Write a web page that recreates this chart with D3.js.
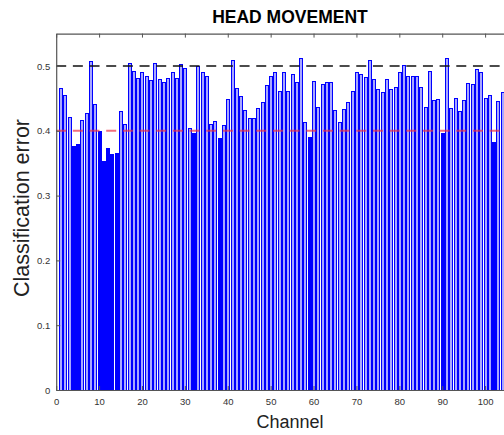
<!DOCTYPE html>
<html>
<head>
<meta charset="utf-8">
<script src="https://cdn.jsdelivr.net/npm/d3@7"></script>
<style>
  html, body { margin: 0; padding: 0; background: #fff; overflow: hidden; }
  svg { display: block; font-family: "Liberation Sans", Arial, Helvetica, sans-serif; }
</style>
</head>
<body>
<svg id="chart" width="504" height="435"></svg>
<script>
// Per-channel classification error (channels 1..104)
const channels = d3.range(1, 105);
const errors = [
  0.466, 0.456, 0.422, 0.376, 0.379, 0.417, 0.427, 0.508, 0.442, 0.399,
  0.354, 0.373, 0.364, 0.365, 0.431, 0.410, 0.504, 0.492, 0.481, 0.491,
  0.485, 0.478, 0.504, 0.480, 0.475, 0.482, 0.490, 0.481, 0.503, 0.497,
  0.404, 0.396, 0.500, 0.490, 0.485, 0.410, 0.415, 0.389, 0.409, 0.449,
  0.509, 0.466, 0.453, 0.432, 0.420, 0.419, 0.435, 0.444, 0.471, 0.484,
  0.491, 0.462, 0.491, 0.461, 0.488, 0.475, 0.512, 0.413, 0.390, 0.477,
  0.436, 0.472, 0.475, 0.475, 0.432, 0.413, 0.434, 0.444, 0.462, 0.490,
  0.488, 0.483, 0.509, 0.480, 0.465, 0.460, 0.480, 0.465, 0.467, 0.490,
  0.502, 0.485, 0.484, 0.484, 0.468, 0.437, 0.493, 0.447, 0.449, 0.396,
  0.512, 0.435, 0.451, 0.431, 0.448, 0.473, 0.472, 0.495, 0.490, 0.451,
  0.456, 0.383, 0.446, 0.460
];
const chanceLevel = 0.5;
const significanceLevel = 0.4;
const xTicks = [0, 10, 20, 30, 40, 50, 60, 70, 80, 90, 100];
const yTicks = [0, 0.1, 0.2, 0.3, 0.4, 0.5];

const svg = d3.select("#chart");
const plotLeft = 56.2, plotTop = 33.6, plotBottom = 390;
const xDomain = [0, 109];
const x = d3.scaleLinear().domain(xDomain).range([plotLeft, plotLeft + 4.289 * xDomain[1]]);
const y = d3.scaleLinear().domain([0, 0.55]).range([plotBottom, plotTop]);
const plotRight = x(xDomain[1]);
const plotCenter = (plotLeft + plotRight) / 2;
const barPx = 3;

const data = channels.map((c, i) => ({ c, v: errors[i] }));

// Bars, snapped to the pixel grid so the 1px edges stay crisp
svg.append("g").selectAll("rect").data(data).join("rect")
  .attr("x", d => Math.round(x(d.c) - barPx / 2) + 0.5)
  .attr("y", d => Math.round(y(d.v)) + 0.5)
  .attr("width", barPx)
  .attr("height", d => Math.round(y(0)) - Math.round(y(d.v)))
  .attr("fill", d => d.v < significanceLevel ? "#0000ff" : "#a8a8ff")
  .attr("stroke", "#0000ff")
  .attr("stroke-width", 1);

// Reference lines
svg.append("line")
  .attr("x1", plotLeft).attr("x2", plotRight)
  .attr("y1", y(significanceLevel)).attr("y2", y(significanceLevel))
  .attr("stroke", "rgba(235,50,70,0.7)").attr("stroke-width", 2)
  .attr("stroke-dasharray", "10,6.67");
svg.append("line")
  .attr("x1", plotLeft).attr("x2", plotRight)
  .attr("y1", y(chanceLevel)).attr("y2", y(chanceLevel))
  .attr("stroke", "#111").attr("stroke-width", 1.3)
  .attr("stroke-dasharray", "10,6.67");

// Axes (ticks pointing inward, box style)
const axisColor = "#555";
const xAxis = svg.append("g").attr("transform", `translate(0,${plotBottom})`)
  .call(d3.axisBottom(x).tickValues(xTicks).tickSize(-4).tickSizeOuter(0).tickPadding(8).tickFormat(d3.format("d")));
const yAxis = svg.append("g").attr("transform", `translate(${plotLeft},0)`)
  .call(d3.axisLeft(y).tickValues(yTicks).tickSize(-4).tickSizeOuter(0).tickPadding(6).tickFormat(d => d === 0 ? "0" : d3.format(".1f")(d)));
const xTop = svg.append("g").attr("transform", `translate(0,${plotTop})`)
  .call(d3.axisTop(x).tickValues(xTicks).tickSize(-4).tickSizeOuter(0).tickFormat(""));
[xAxis, yAxis, xTop].forEach(g => {
  g.select(".domain").attr("stroke", axisColor).attr("stroke-width", 1.2);
  g.selectAll(".tick line").attr("stroke", axisColor);
  g.selectAll(".tick text").attr("fill", "#333").attr("font-size", 9.5)
    .attr("font-family", "Liberation Sans, Arial, sans-serif");
});

// Title and axis labels
svg.append("text")
  .attr("x", plotCenter).attr("y", 23)
  .attr("text-anchor", "middle")
  .attr("font-size", 17.5).attr("font-weight", "bold").attr("fill", "#000")
  .text("HEAD MOVEMENT");
svg.append("text")
  .attr("x", plotCenter).attr("y", 428)
  .attr("text-anchor", "middle")
  .attr("font-size", 18).attr("fill", "#222")
  .text("Channel");
svg.append("text")
  .attr("transform", `translate(29,208) rotate(-90)`)
  .attr("text-anchor", "middle")
  .attr("font-size", 21.5).attr("fill", "#222")
  .text("Classification error");
</script>
</body>
</html>
